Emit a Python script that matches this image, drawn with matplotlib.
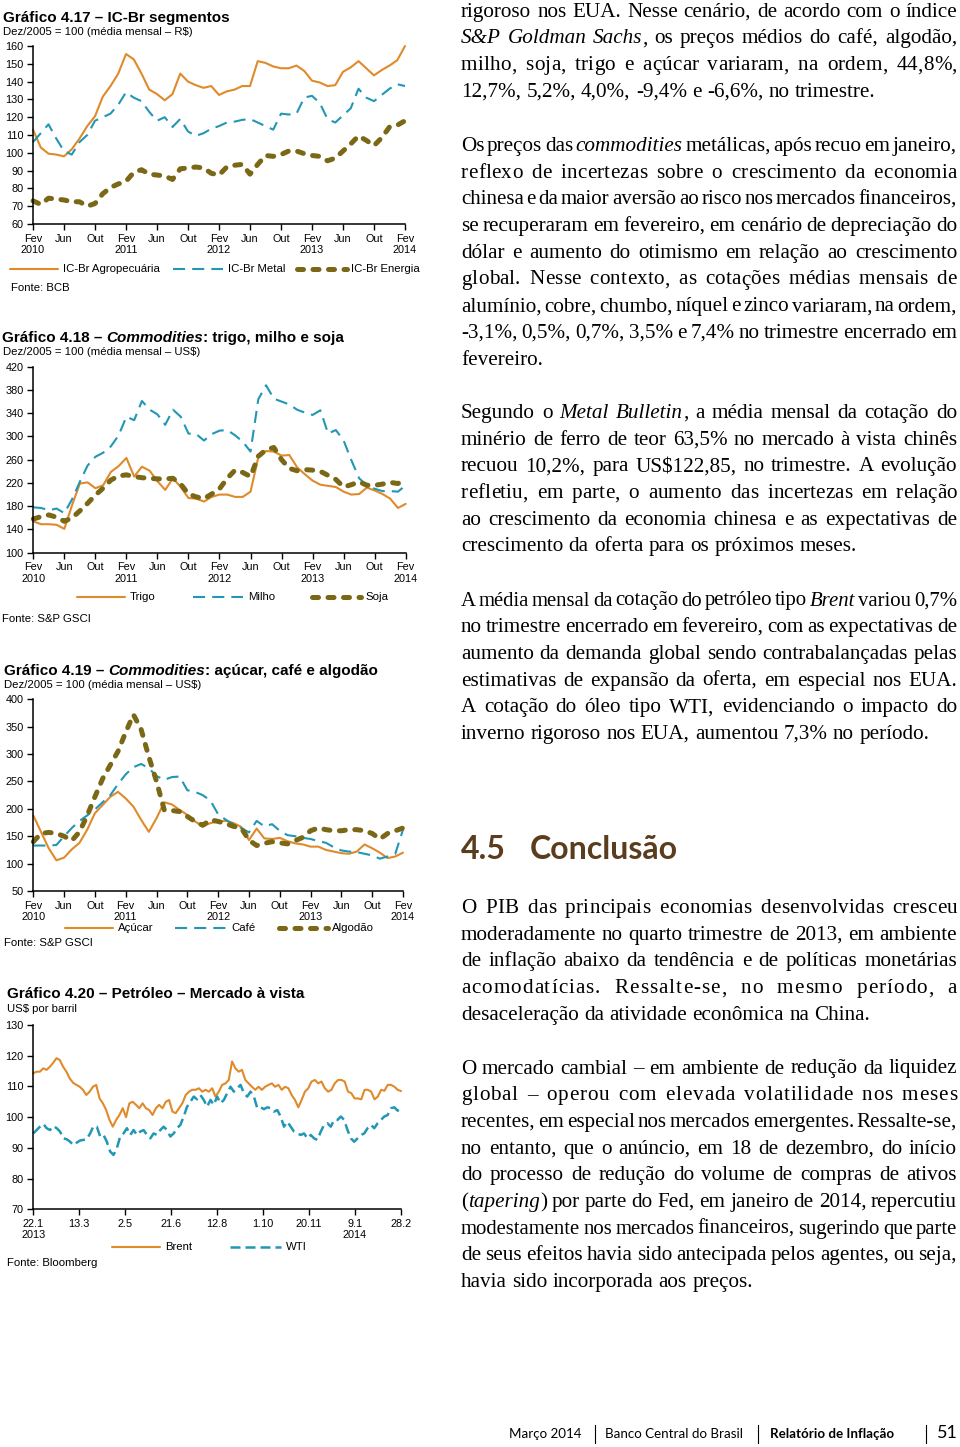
import numpy as np
import matplotlib
matplotlib.use('Agg')
import matplotlib.pyplot as plt
from matplotlib.lines import Line2D

W, H = 960, 1447
ORANGE = '#E08A2A'
BLUE = '#2297B5'
OLIVE = '#7B6816'
BROWN = '#5B3D1E'
SANS = 'Liberation Sans'
SERIF = 'Liberation Serif'
HUM = 'Lato'

# ---- data -----------------------------------------------------------------
month_labels = ['Fev\n2010', 'Jun', 'Out', 'Fev\n2011', 'Jun', 'Out', 'Fev\n2012',
                'Jun', 'Out', 'Fev\n2013', 'Jun', 'Out', 'Fev\n2014']

# Gráfico 4.17 - IC-Br segmentos (fev/2010 - fev/2014)
agro = [113, 103, 99.5, 99, 98, 102, 108, 115, 120.5, 131.5, 137.5, 144.5, 155.5,
        152.5, 144.5, 135.5, 133, 129.5, 133, 144.5, 140, 138, 136.5, 137.5, 132.5,
        134.5, 135.5, 137.5, 137.5, 151.5, 150.5, 148.5, 147.5, 147.5, 149, 146,
        140.5, 139.5, 137.5, 138, 145.5, 148, 151.5, 147.5, 143.5, 146.5, 149, 152, 160]
metal = [106, 111, 116, 108, 101, 99, 106, 110, 118, 120, 122, 127, 134, 131, 129,
         123, 118, 120, 114.5, 119, 112, 109.5, 111, 113.5, 115, 117, 117.5, 118.5,
         119, 117, 115, 113, 122, 121.5, 122, 131, 132, 128, 119, 117, 121, 125, 136,
         131, 129, 132.5, 136, 138.5, 137.5]
energia = [73, 71, 74.5, 74, 73.5, 72.5, 72.5, 70, 71.5, 77, 80.5, 82.5, 84, 89,
           90.5, 88, 87.5, 87, 85, 91, 91.5, 92, 91.5, 88.5, 87.5, 92, 93, 93.5, 88,
           93.5, 98.5, 98, 99, 101, 101, 99.5, 98.5, 98, 95.5, 97, 101, 105, 109.5,
           107, 104, 108.5, 114.5, 115.5, 118]

# Gráfico 4.18 - trigo, milho e soja
trigo = [154, 149, 149, 148, 141, 182, 219, 221, 211, 216, 239, 249, 263, 231, 248,
         241, 223, 208, 228, 213, 194, 193, 188, 196, 200, 200, 196, 196, 205, 264,
         275, 274, 267, 268, 247, 235, 224, 217, 215, 213, 205, 200, 201, 212, 207,
         201, 193, 177, 184]
milho = [178, 177, 173, 176, 168, 192, 222, 250, 265, 272, 283, 302, 334, 328, 361,
         346, 338, 320, 346, 334, 305, 304, 293, 304, 310, 311, 302, 291, 274, 364,
         388, 365, 360, 355, 346, 341, 337, 345, 305, 311, 293, 259, 228, 216, 210,
         206, 206, 205, 216]
soja = [158, 162, 165, 161, 154, 160, 172, 185, 199, 211, 225, 232, 234, 231, 229,
        228, 227, 227, 228, 218, 201, 196, 193, 201, 210, 228, 242, 238, 231, 266,
        277, 281, 260, 245, 241, 243, 242, 240, 233, 226, 213, 217, 222, 216, 216,
        218, 221, 219, 227]

# Gráfico 4.19 - açúcar, café e algodão
acucar = [188, 158, 128, 106, 111, 126, 138, 162, 192, 207, 222, 231, 219, 204, 180,
          158, 183, 212, 208, 198, 189, 177, 168, 174, 177, 178, 174, 167, 143, 164,
          146, 145, 147, 141, 137, 135, 131, 131, 125, 122, 119, 118, 122, 135, 128,
          120, 110, 113, 120]
cafe = [133, 133, 133, 134, 150, 165, 178, 188, 199, 212, 225, 245, 263, 276, 282,
        274, 260, 253, 258, 259, 234, 231, 225, 215, 190, 180, 172, 165, 157, 178,
        168, 172, 160, 152, 150, 147, 145, 141, 138, 130, 124, 122, 121, 118, 115,
        109, 113, 118, 162]
algodao = [140, 155, 157, 155, 150, 142, 158, 188, 222, 255, 280, 305, 340, 372, 345,
           295, 250, 198, 197, 195, 186, 177, 170, 180, 177, 173, 168, 165, 143, 133,
           137, 140, 138, 136, 142, 148, 160, 165, 162, 160, 160, 162, 162, 160, 155,
           145, 155, 160, 165]

# Gráfico 4.20 - petróleo (amostras diárias, 22.1.2013 - 28.2.2014)
oil_labels = ['22.1\n2013', '13.3', '2.5', '21.6', '12.8', '1.10', '20.11', '9.1\n2014', '28.2']
brent = [114.3, 114.8, 114.8, 115.9, 115.4, 116.4, 117.7, 119.2, 118.6, 116.4, 114.8,
         112.6, 111.2, 110.5, 109.9, 108.9, 107.2, 108.3, 109.9, 110.5, 106.1, 104.5,
         102.3, 99.1, 96.9, 99.1, 100.7, 102.9, 100.0, 104.5, 105, 104, 102.9, 104.5,
         102.9, 102.3, 100.7, 102.9, 104, 102.9, 105, 105.6, 101.8, 101.3, 102.9, 104.5,
         107.2, 108.3, 108.9, 108.9, 109.4, 108.3, 108.9, 108.3, 109.4, 106.7, 108.3,
         110.5, 111, 112.1, 118.1, 115.9, 114.8, 115.4, 112.1, 111, 109.9, 108.9, 109.9,
         108.9, 109.9, 110.5, 111, 109.9, 110.5, 108.9, 109.9, 109.4, 107.2, 105.6, 103.2,
         105.6, 108.3, 109.4, 111.6, 112.1, 111, 111.6, 109.4, 108.3, 108.9, 111, 112.1,
         112.1, 111.6, 108.3, 107.8, 106.1, 106.1, 105.8, 108.9, 108.9, 108.3, 105.8,
         106.7, 108.9, 108.6, 110.5, 110.5, 109.9, 108.9, 108.5]
wti = [94.7, 95.8, 96.9, 97.8, 96.4, 95.8, 97.1, 96.4, 95.3, 93.1, 92.8, 92, 90.9, 91.7,
       92.4, 92.6, 92.8, 94.7, 97.1, 96.9, 93.7, 94.2, 92, 88.8, 87.7, 89.9, 93.7, 94.7,
       96.4, 94.2, 95.8, 94.2, 95.3, 95.8, 94.2, 93.1, 94.7, 94.2, 95.8, 96.9, 95.8, 93.7,
       94.7, 96.4, 97.5, 100.2, 103.4, 105, 106.7, 105.8, 107.2, 105.6, 103.4, 105.6, 104,
       106.7, 104.5, 105.6, 107.8, 109.9, 108.3, 109.4, 110.5, 107.8, 106.7, 108.3, 106.7,
       102.9, 103.2, 102.6, 103.2, 102.9, 101.8, 102.3, 100.2, 96.9, 98.5, 96.9, 95.3,
       94.7, 94.2, 94.7, 93.1, 94.2, 93.1, 92.6, 95.3, 97.5, 98, 96.9, 99.1, 99.1, 100.2,
       99.1, 95.8, 93.1, 92, 93.1, 94.2, 94.7, 96.4, 97.5, 96.4, 98, 99.1, 100.2, 100.7,
       102.9, 103.2, 102.1, 102.9]

# ---- text -----------------------------------------------------------------
par1 = ["rigoroso nos EUA. Nesse cenário, de acordo com o índice",
        "*S&P Goldman Sachs*, os preços médios do café, algodão,",
        "milho, soja, trigo e açúcar variaram, na ordem, 44,8%,",
        "12,7%, 5,2%, 4,0%, -9,4% e -6,6%, no trimestre."]
par2 = ["Os preços das *commodities* metálicas, após recuo em janeiro,",
        "reflexo de incertezas sobre o crescimento da economia",
        "chinesa e da maior aversão ao risco nos mercados financeiros,",
        "se recuperaram em fevereiro, em cenário de depreciação do",
        "dólar e aumento do otimismo em relação ao crescimento",
        "global. Nesse contexto, as cotações médias mensais de",
        "alumínio, cobre, chumbo, níquel e zinco variaram, na ordem,",
        "-3,1%, 0,5%, 0,7%, 3,5% e 7,4% no trimestre encerrado em",
        "fevereiro."]
par3 = ["Segundo o *Metal Bulletin*, a média mensal da cotação do",
        "minério de ferro de teor 63,5% no mercado à vista chinês",
        "recuou 10,2%, para US$122,85, no trimestre. A evolução",
        "refletiu, em parte, o aumento das incertezas em relação",
        "ao crescimento da economia chinesa e as expectativas de",
        "crescimento da oferta para os próximos meses."]
par4 = ["A média mensal da cotação do petróleo tipo *Brent* variou 0,7%",
        "no trimestre encerrado em fevereiro, com as expectativas de",
        "aumento da demanda global sendo contrabalançadas pelas",
        "estimativas de expansão da oferta, em especial nos EUA.",
        "A cotação do óleo tipo WTI, evidenciando o impacto do",
        "inverno rigoroso nos EUA, aumentou 7,3% no período."]
par5 = ["O PIB das principais economias desenvolvidas cresceu",
        "moderadamente no quarto trimestre de 2013, em ambiente",
        "de inflação abaixo da tendência e de políticas monetárias",
        "acomodatícias. Ressalte-se, no mesmo período, a",
        "desaceleração da atividade econômica na China."]
par6 = ["O mercado cambial – em ambiente de redução da liquidez",
        "global – operou com elevada volatilidade nos meses",
        "recentes, em especial nos mercados emergentes. Ressalte-se,",
        "no entanto, que o anúncio, em 18 de dezembro, do início",
        "do processo de redução do volume de compras de ativos",
        "(*tapering*) por parte do Fed, em janeiro de 2014, repercutiu",
        "modestamente nos mercados financeiros, sugerindo que parte",
        "de seus efeitos havia sido antecipada pelos agentes, ou seja,",
        "havia sido incorporada aos preços."]

# ---- helpers --------------------------------------------------------------
fig = plt.figure(figsize=(W / 100, H / 100), dpi=100)
R = fig.canvas.get_renderer()
_wcache = {}


def fx(x):
    return x / W


def fy(y):
    return 1 - y / H


def tw(s, size, family=SERIF, style='normal', weight='normal'):
    # pixel width of a string (temporary text, removed after measuring)
    key = (s, round(size, 3), family, style, weight)
    if key not in _wcache:
        t = fig.text(0.5, 0.5, s, fontsize=size, family=family, style=style, weight=weight)
        _wcache[key] = t.get_window_extent(renderer=R).width
        t.remove()
    return _wcache[key]


def adv(c, size, style):
    return tw('n' + c + 'n', size, SERIF, style) - tw('nn', size, SERIF, style)


def put(x, y, s, size, family=SANS, **kw):
    kw.setdefault('va', 'baseline')
    return fig.text(fx(x), fy(y), s, fontsize=size, family=family, **kw)


def rich(x, y, parts, size, family=SANS):
    # parts: (text, weight, style, space_before)
    sp = tw('n n', size, family, weight='bold') - tw('nn', size, family, weight='bold')
    for s, wt, st, gap in parts:
        if gap:
            x += sp
        put(x, y, s, size, family, weight=wt, style=st)
        x += tw(s, size, family, st, wt)


def make_axes(left, top, right, bottom):
    ax = fig.add_axes([fx(left), fy(bottom), (right - left) / W, (bottom - top) / H])
    for s in ['top', 'right']:
        ax.spines[s].set_visible(False)
    for s in ['left', 'bottom']:
        ax.spines[s].set_linewidth(1.1)
    ax.tick_params(direction='out', length=4, width=1.0, labelsize=7.8, pad=3)
    ax.patch.set_alpha(0)
    return ax


def finish_axes(ax, ylo, yhi, ystep, xticks, xlabels):
    ax.set_ylim(ylo, yhi)
    ax.set_yticks(np.arange(ylo, yhi + 1, ystep))
    ax.set_xticks(xticks)
    ax.set_xticklabels(xlabels, linespacing=1.15)
    for lab in ax.get_xticklabels() + ax.get_yticklabels():
        lab.set_family(SANS)
        lab.set_fontsize(7.8)


STY = {
    'o': dict(color=ORANGE, lw=1.5, solid_capstyle='round'),
    'b': dict(color=BLUE, lw=1.5, dashes=(5.8, 3.4)),
    'g': dict(color=OLIVE, lw=3.6, dashes=(1.2, 1.9), dash_capstyle='round'),
}


def legend_item(x0, x1, y, key, label, tx=None, **over):
    kw = dict(STY[key])
    kw.update(over)
    fig.add_artist(Line2D([fx(x0), fx(x1)], [fy(y), fy(y)], transform=fig.transFigure, **kw))
    put(tx if tx is not None else x1 + 5, y, label, 8.2, va='center')


# ---- Gráfico 4.17 ---------------------------------------------------------
months = np.arange(len(agro))
rich(3, 21.7, [('Gráfico 4.17 – IC-Br segmentos', 'bold', 'normal', False)], 11)
put(3, 35, 'Dez/2005 = 100 (média mensal – R$)', 8.2)
ax1 = make_axes(33, 46, 405, 224)
ax1.plot(months, agro, clip_on=False, **STY['o'])
ax1.plot(months, metal, clip_on=False, **STY['b'])
ax1.plot(months, energia, clip_on=False, **STY['g'])
ax1.set_xlim(0, 48)
finish_axes(ax1, 60, 160, 10, np.arange(0, 49, 4), month_labels)
legend_item(10, 58, 269, 'o', 'IC-Br Agropecuária')
legend_item(173, 223, 269, 'b', 'IC-Br Metal')
legend_item(297, 347, 269, 'g', 'IC-Br Energia', tx=351)
put(11, 291, 'Fonte: BCB', 8.2)

# ---- Gráfico 4.18 ---------------------------------------------------------
rich(2, 341.7, [('Gráfico 4.18 –', 'bold', 'normal', False),
                ('Commodities', 'bold', 'italic', True),
                (': trigo, milho e soja', 'bold', 'normal', False)], 11)
put(3, 355, 'Dez/2005 = 100 (média mensal – US$)', 8.2)
ax2 = make_axes(33.3, 366.7, 405.7, 552.7)
ax2.plot(months, trigo, clip_on=False, **STY['o'])
ax2.plot(months, milho, clip_on=False, **STY['b'])
ax2.plot(months, soja, clip_on=False, **STY['g'])
ax2.set_xlim(0, 48)
finish_axes(ax2, 100, 420, 40, np.arange(0, 49, 4), month_labels)
legend_item(77, 125, 597, 'o', 'Trigo')
legend_item(193, 243, 597, 'b', 'Milho')
legend_item(312, 361, 597, 'g', 'Soja', tx=365)
put(2, 621.5, 'Fonte: S&P GSCI', 8.2)

# ---- Gráfico 4.19 ---------------------------------------------------------
rich(4, 675, [('Gráfico 4.19 –', 'bold', 'normal', False),
              ('Commodities', 'bold', 'italic', True),
              (': açúcar, café e algodão', 'bold', 'normal', False)], 11)
put(4, 688.5, 'Dez/2005 = 100 (média mensal – US$)', 8.2)
ax3 = make_axes(33.3, 699.3, 403, 891)
ax3.plot(months, acucar, clip_on=False, **STY['o'])
ax3.plot(months, cafe, clip_on=False, **STY['b'])
ax3.plot(months, algodao, clip_on=False, **STY['g'])
ax3.set_xlim(0, 48)
finish_axes(ax3, 50, 400, 50, np.arange(0, 49, 4), month_labels)
legend_item(65, 113, 928, 'o', 'Açúcar')
legend_item(175, 226, 928, 'b', 'Café')
legend_item(279, 328, 928, 'g', 'Algodão', tx=332)
put(4, 946, 'Fonte: S&P GSCI', 8.2)

# ---- Gráfico 4.20 ---------------------------------------------------------
rich(7, 998.3, [('Gráfico 4.20 – Petróleo – Mercado à vista', 'bold', 'normal', False)], 11)
put(7, 1012, 'US$ por barril', 8.2)
ax4 = make_axes(33.3, 1025, 401, 1209.3)
ax4.plot(np.linspace(0, 1, len(brent)), brent, clip_on=False, **STY['o'])
ax4.plot(np.linspace(0, 1, len(wti)), wti, clip_on=False, color=BLUE, lw=1.8, dashes=(4.0, 2.0))
ax4.set_xlim(0, 1)
finish_axes(ax4, 70, 130, 10, np.linspace(0, 1, len(oil_labels)), oil_labels)
legend_item(112, 160, 1247, 'o', 'Brent')
legend_item(230, 281, 1247, 'b', 'WTI', lw=1.8, dashes=(4.0, 2.0))
put(7, 1266, 'Fonte: Bloomberg', 8.2)

# ---- right column text (justified) ----------------------------------------
TL, TR = 461, 957
BODY = 15.2
LS = 26.7


def parse_words(line):
    italic = False
    words = []
    for tok in line.split(' '):
        segs = []
        for j, piece in enumerate(tok.split('*')):
            if j > 0:
                italic = not italic
            if piece:
                segs.append((piece, 'italic' if italic else 'normal'))
        words.append(segs)
    return words


def word_width(segs, size, ls):
    if ls <= 0:
        return sum(tw(p, size, SERIF, st) for p, st in segs)
    chars = [(c, st) for p, st in segs for c in p]
    return sum(adv(c, size, st) for c, st in chars[:-1]) + \
        tw(chars[-1][0], size, SERIF, chars[-1][1]) + ls * (len(chars) - 1)


def body_line(line, y, justify):
    words = parse_words(line)
    n = len(words)
    size = BODY
    avail = TR - TL
    sp = size * 100 / 72 * 0.25
    ls = 0.0
    total = sum(word_width(w, size, 0) for w in words)
    if justify and n > 1:
        gap = (avail - total) / (n - 1)
        if gap < 2.5:
            size = size * (avail - 2.5 * (n - 1)) / total
            total = sum(word_width(w, size, 0) for w in words)
            gap = (avail - total) / (n - 1)
        if gap > 1.7 * sp:
            nch = sum(len(''.join(p for p, _ in w)) - 1 for w in words)
            ls = min((gap - 1.7 * sp) * (n - 1) / max(nch, 1), 1.0)
            total = sum(word_width(w, size, ls) for w in words)
            gap = (avail - total) / (n - 1)
    else:
        gap = sp
    x = TL
    for w in words:
        wd = word_width(w, size, ls)
        xx = x
        if ls > 0:
            for p, st in w:
                for c in p:
                    put(xx, y, c, size, SERIF, style=st)
                    xx += adv(c, size, st) + ls
        else:
            for p, st in w:
                put(xx, y, p, size, SERIF, style=st)
                xx += tw(p, size, SERIF, st)
        x += wd + gap


def paragraph(lines, y0):
    for k, line in enumerate(lines):
        body_line(line, y0 + k * LS, k < len(lines) - 1)


paragraph(par1, 16.7)
paragraph(par2, 151)
paragraph(par3, 418)
paragraph(par4, 605.5)
put(461, 859, '4.5', 23, HUM, weight='bold', color=BROWN)
put(530, 859, 'Conclusão', 23, HUM, weight='bold', color=BROWN)
paragraph(par5, 913)
paragraph(par6, 1073.5)

# ---- footer ---------------------------------------------------------------
put(509, 1438, 'Março 2014', 9.6, HUM)
put(605, 1438, 'Banco Central do Brasil', 9.6, HUM)
put(770, 1438, 'Relatório de Inflação', 9.6, HUM, weight='bold')
put(937, 1438, '51', 13, HUM)
for xs in [595, 758, 926]:
    fig.add_artist(Line2D([fx(xs), fx(xs)], [fy(1425), fy(1443)],
                          transform=fig.transFigure, color='black', lw=0.8))

fig.savefig('out.png', dpi=100)
